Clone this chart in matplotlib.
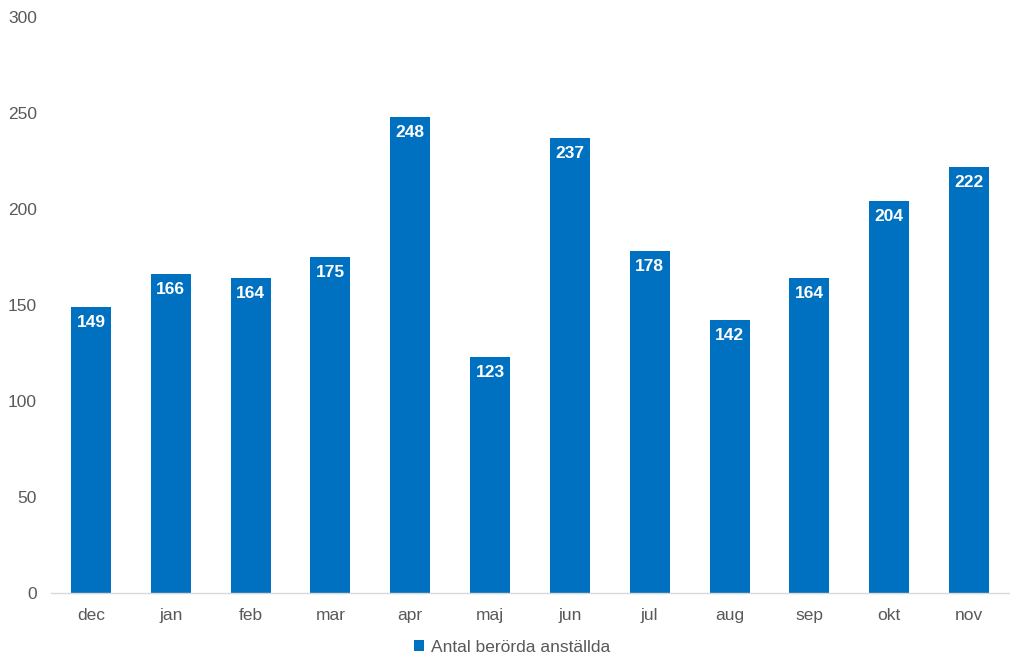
import matplotlib
matplotlib.use("Agg")
import matplotlib.pyplot as plt
import numpy as np

plt.rcParams['font.family'] = ['Liberation Sans', 'DejaVu Sans']

# data
months = ['dec', 'jan', 'feb', 'mar', 'apr', 'maj', 'jun', 'jul', 'aug', 'sep', 'okt', 'nov']
values = [149, 166, 164, 175, 248, 123, 237, 178, 142, 164, 204, 222]
series_name = 'Antal berörda anställda'

bar_color = '#0070C0'
text_color = '#595959'

fig = plt.figure(figsize=(10.24, 6.67), dpi=100)
ax = fig.add_axes([0.0498, 0.111, 0.9355, 0.8635])

x = np.arange(len(months))
bars = ax.bar(x, values, width=0.5, color=bar_color, label=series_name, zorder=2)

# value labels inside the top of each bar
for xi, v in zip(x, values):
    ax.annotate(str(v), (xi, v), xytext=(0, -11), textcoords='offset points',
                ha='center', va='center', color='white', fontsize=12.5, fontweight='bold')

ax.set_xlim(-0.5, len(months) - 0.5)
ax.set_ylim(0, 300)
ax.set_yticks(range(0, 301, 50))
ax.set_xticks(x)
ax.set_xticklabels(months)
ax.tick_params(axis='both', length=0, labelsize=12.5, labelcolor=text_color)
ax.tick_params(axis='x', pad=10.5)
ax.tick_params(axis='y', pad=10)

for s in ['top', 'right', 'left']:
    ax.spines[s].set_visible(False)
ax.spines['bottom'].set_color('#D9D9D9')
ax.spines['bottom'].set_linewidth(1)

leg = fig.legend(loc='lower center', bbox_to_anchor=(0.5, -0.005), frameon=False, fontsize=12.5,
                 handlelength=0.6, handleheight=0.6, handletextpad=0.4)
for t in leg.get_texts():
    t.set_color(text_color)

fig.savefig('out.png', dpi=100)
